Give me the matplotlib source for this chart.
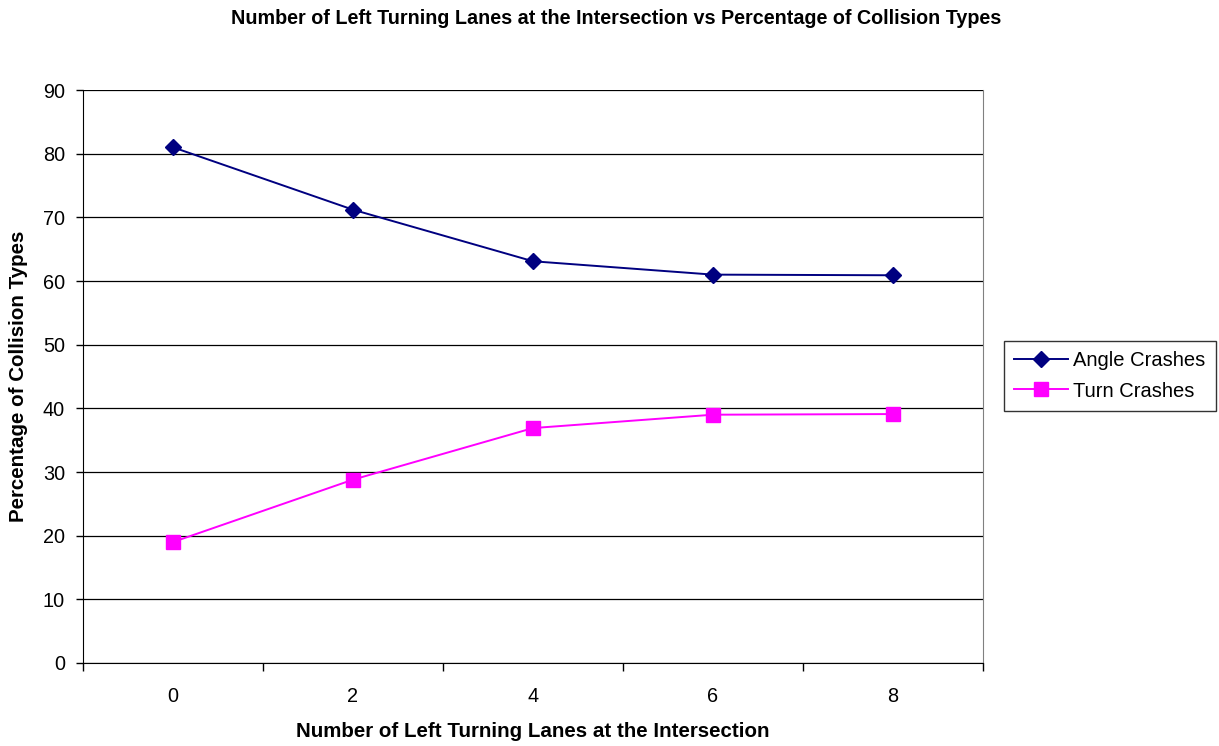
import matplotlib
matplotlib.use("Agg")
import matplotlib.pyplot as plt

plt.rcParams['font.family'] = ['Liberation Sans', 'DejaVu Sans']

lanes = ["0", "2", "4", "6", "8"]
angle_crashes = [81.0, 71.2, 63.1, 61.0, 60.9]
turn_crashes = [19.0, 28.8, 36.9, 39.0, 39.1]
y_ticks = [0, 10, 20, 30, 40, 50, 60, 70, 80, 90]

W, H = 1219, 746
fig = plt.figure(figsize=(W / 100, H / 100), dpi=100)
ax = fig.add_axes([83 / W, (H - 663) / H, 900 / W, (663 - 90) / H])

x = list(range(len(lanes)))
ax.plot(x, angle_crashes, color='#000080', lw=1.4, marker='D', ms=8.5,
        markerfacecolor='#000080', markeredgecolor='#000080', label='Angle Crashes', zorder=3)
ax.plot(x, turn_crashes, color='#FF00FF', lw=1.4, marker='s', ms=9.5,
        markerfacecolor='#FF00FF', markeredgecolor='#FF00FF', label='Turn Crashes', zorder=3)

ax.set_xlim(-0.5, len(lanes) - 0.5)
ax.set_ylim(0, 90)
ax.set_yticks(y_ticks)
ax.set_yticklabels([str(v) for v in y_ticks], fontsize=14.3)
ax.yaxis.grid(True, color='black', lw=0.9)
ax.set_axisbelow(True)

# category labels centred, tick marks between categories
ax.set_xticks(x)
ax.set_xticklabels(lanes, fontsize=14.3)
ax.tick_params(axis='x', which='major', length=0, pad=17)
ax.set_xticks([i - 0.5 for i in range(len(lanes) + 1)], minor=True)
ax.tick_params(axis='x', which='minor', length=6, width=1, direction='out', color='black')
ax.tick_params(axis='y', length=5, width=1, direction='out', pad=8)

ax.spines['top'].set_visible(False)
ax.spines['right'].set_color('#808080')
ax.spines['left'].set_color('black')
ax.spines['bottom'].set_color('black')

ax.set_xlabel('Number of Left Turning Lanes at the Intersection', fontsize=14.8,
              fontweight='bold', labelpad=12)
ax.set_ylabel('Percentage of Collision Types', fontsize=14.8, fontweight='bold', labelpad=11)

fig.text(616 / W, 1 - 18 / H, 'Number of Left Turning Lanes at the Intersection vs Percentage of Collision Types',
         ha='center', va='center', fontsize=14.2, fontweight='bold')

leg = ax.legend(loc='center left', bbox_to_anchor=(1004 / W, (H - 376) / H),
                bbox_transform=fig.transFigure, fontsize=14.5, frameon=True,
                fancybox=False, edgecolor='black', borderpad=0.5, handlelength=2.7,
                handletextpad=0.25, labelspacing=0.55, borderaxespad=0)
leg.get_frame().set_linewidth(1)

fig.savefig('out.png', dpi=100)
